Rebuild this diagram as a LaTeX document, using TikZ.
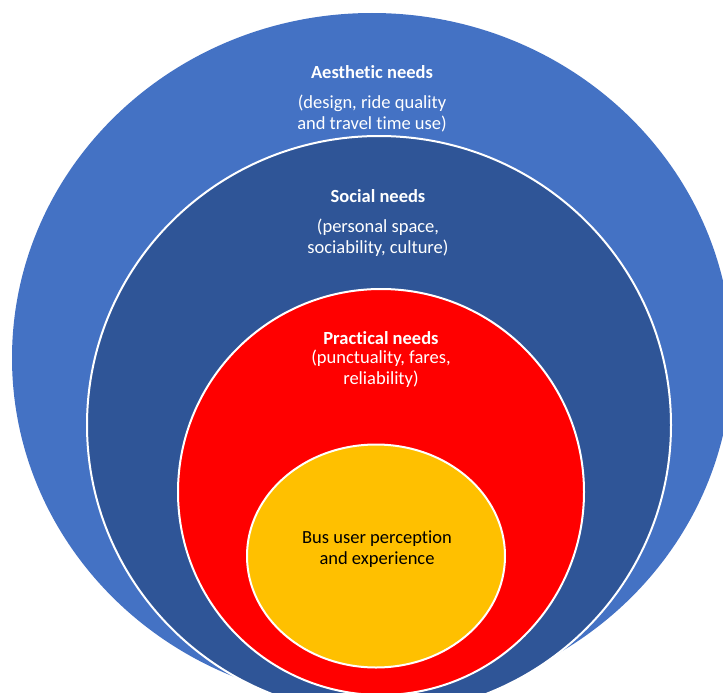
\documentclass[tikz,border=0pt]{standalone}
\usepackage{fontspec}
\setmainfont{Carlito}[Ligatures={NoCommon}]
\usetikzlibrary{shapes.geometric}
\definecolor{outerblue}{HTML}{4472C4}
\definecolor{innerblue}{HTML}{2F5597}
\definecolor{needred}{HTML}{FF0000}
\definecolor{coreyellow}{HTML}{FFC000}
\begin{document}
\begin{tikzpicture}[x=1pt,y=-1pt,
    ring/.style={ellipse, draw=white, line width=2pt, inner sep=0pt},
    lbl/.style={text=white, align=center, inner sep=0pt, font=\fontsize{18.5}{21}\selectfont},
    ttl/.style={lbl, font=\fontsize{18.5}{21}\selectfont\bfseries}]
        \useasboundingbox (0,0) rectangle (723,693);
        \clip (0,0) rectangle (723,693);
        \node[ring, draw=none, fill=outerblue, minimum width=720pt, minimum height=690pt] (aesthetic) at (372,358) {};
        \node[ring, fill=innerblue, minimum width=584pt, minimum height=578pt] (social) at (379,425) {};
        \node[ring, fill=needred, minimum width=406pt, minimum height=406pt] (practical) at (381,492) {};
        \node[ring, fill=coreyellow, minimum width=258pt, minimum height=223pt] (core) at (376,556) {};
        \node[ttl] (aesthtitle) at (372,72) {Aesthetic needs};
        \node[lbl] (aesthtext) at (372,113.5) {(design, ride quality\\and travel time use)};
        \node[ttl] (socialtitle) at (378,196) {Social needs};
        \node[lbl] (socialtext) at (378,237.5) {(personal space,\\sociability, culture)};
        \node[ttl] (practtitle) at (381,338) {Practical needs};
        \node[lbl] (practtext) at (381,368.5) {(punctuality, fares,\\reliability)};
        \node[lbl, text=black] (coretext) at (377,549.5) {Bus user perception\\and experience};
    \end{tikzpicture}
\end{document}
